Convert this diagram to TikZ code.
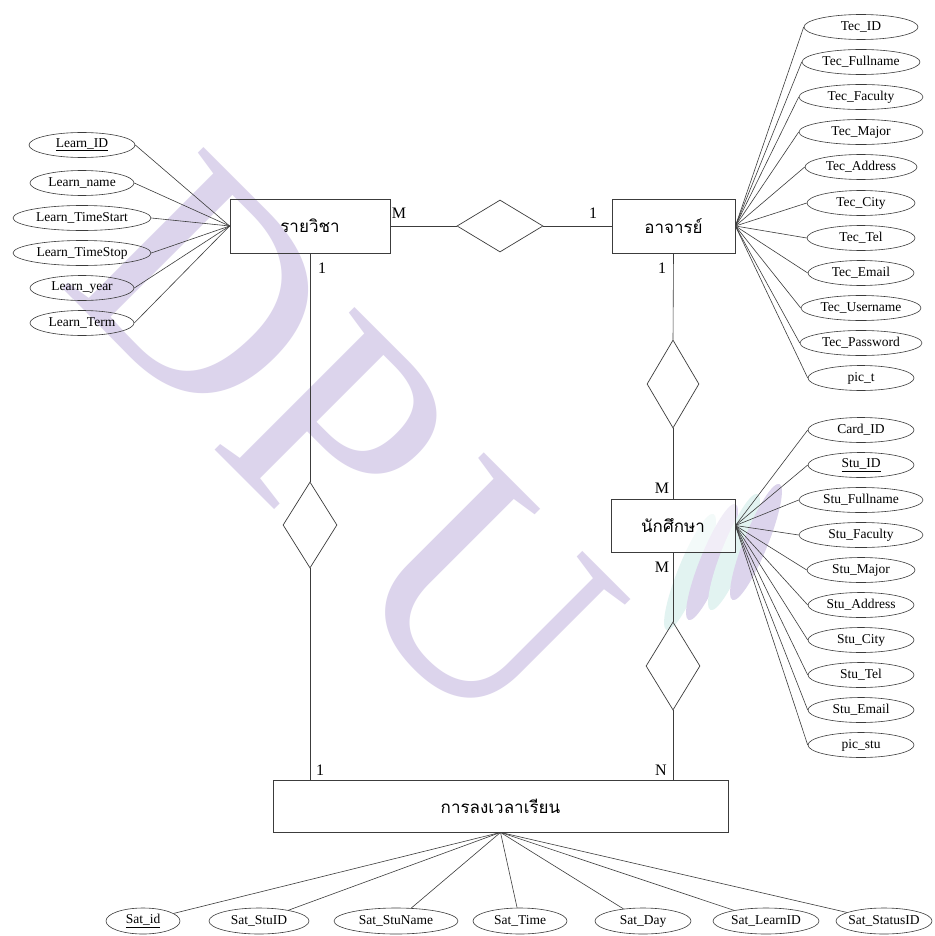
\documentclass[tikz,border=0pt]{standalone}
\usepackage{fontspec}
\setmainfont{Liberation Serif}
\newfontfamily\thaifont[Script=Thai]{Loma}
\usetikzlibrary{shapes.geometric}
\definecolor{linec}{RGB}{60,60,60}
\definecolor{wmark}{RGB}{220,212,236}
\definecolor{wteal}{RGB}{226,243,241}
\begin{document}
\begin{tikzpicture}[x=1pt,y=-1pt,
  ent/.style={draw=linec, line width=0.8pt, inner sep=0pt, font=\thaifont\fontsize{17}{17}\selectfont},
  attr/.style={ellipse, draw=linec, line width=0.6pt, inner sep=0pt, minimum height=25pt, minimum width=106pt,
    font=\fontsize{13.5}{13.5}\selectfont,
    execute at begin node={\hbox to 0pt\bgroup\hss}, execute at end node={\hss\egroup}},
  rel/.style={diamond, draw=linec, line width=0.7pt, inner sep=0pt},
  conn/.style={draw=linec, line width=0.6pt},
  card/.style={font=\fontsize{16}{16}\selectfont, inner sep=0pt},
  wm/.style={text=wmark, rotate=-45, font=\fontsize{305}{305}\selectfont, inner sep=0pt},
  swirl/.style={ellipse, inner sep=0pt, minimum width=24pt, minimum height=125pt, rotate=-22}]
\useasboundingbox (0,0) rectangle (934,936);
\fill[white] (0,0) rectangle (934,936);
% watermark
\node[wm] (wmD) at (205,290) {D};
\node[wm] (wmP) at (338,432) {P};
\node[wm] (wmU) at (486,598) {U};
\node[swirl, fill=wteal] (sw1) at (690,572) {};
\node[swirl, fill=wmark] (sw2) at (712,562) {};
\node[swirl, fill=wteal] (sw3) at (734,552) {};
\node[swirl, fill=wmark] (sw4) at (756,542) {};

% entities
\node[ent, minimum width=160pt, minimum height=54pt] (lrn) at (310,226) {รายวิชา};
\node[ent, minimum width=123pt, minimum height=54pt] (tec) at (673.5,226) {อาจารย์};
\node[ent, fill=white, fill opacity=0.6, text opacity=1, minimum width=124pt, minimum height=53pt] (stu) at (673,525.5) {นักศึกษา};
\node[ent, minimum width=455pt, minimum height=52pt] (reg) at (500.5,806) {การลงเวลาเรียน};

% relationships
\node[rel, minimum width=86pt, minimum height=52pt] (r1) at (500,226) {};
\node[rel, minimum width=54pt, minimum height=86pt] (r2) at (310,525) {};
\node[rel, minimum width=52pt, minimum height=88pt] (r3) at (673,384) {};
\node[rel, minimum width=54pt, minimum height=88pt] (r4) at (673,666) {};

\draw[conn] (lrn.east) -- (r1.west);
\draw[conn] (r1.east) -- (tec.west);
\draw[conn] (lrn.south) -- (r2.north);
\draw[conn] (r2.south) -- (r2.south |- reg.north);
\draw[conn] (tec.south) -- (r3.north);
\draw[conn] (r3.south) -- (stu.north);
\draw[conn] (stu.south) -- (r4.north);
\draw[conn] (r4.south) -- (r4.south |- reg.north);

% cardinalities
\node[card] (c1) at (399,213) {M};
\node[card] (c2) at (593,213) {1};
\node[card] (c3) at (322,268) {1};
\node[card] (c4) at (662,268) {1};
\node[card] (c5) at (662,488) {M};
\node[card] (c6) at (662,567) {M};
\node[card] (c7) at (320,770) {1};
\node[card] (c8) at (661,770) {N};

% Learn attributes
\foreach \n/\t/\yy/\w in {l1/\underline{Learn\_ID}/145/106, l2/Learn\_name/183/104, l3/Learn\_TimeStart/218/138,
  l4/Learn\_TimeStop/253/138, l5/Learn\_year/288/104, l6/Learn\_Term/323/104}{
  \node[attr, minimum width=\w pt] (\n) at (82,\yy) {\t};
  \draw[conn] (\n.east) -- (lrn.west);
}
% Tec attributes
\foreach \n/\t/\yy/\w in {t1/Tec\_ID/27/114, t2/Tec\_Fullname/62/118, t3/Tec\_Faculty/97/124, t4/Tec\_Major/132/124,
  t5/Tec\_Address/167/112, t6/Tec\_City/203/108, t7/Tec\_Tel/238/108, t8/Tec\_Email/273/106,
  t9/Tec\_Username/308/120, t10/Tec\_Password/343/122, t11/pic\_t/378/106}{
  \node[attr, minimum width=\w pt] (\n) at (861,\yy) {\t};
  \draw[conn] (\n.west) -- (tec.east);
}
% Stu attributes
\foreach \n/\t/\yy/\w in {s1/Card\_ID/430/106, s2/\underline{Stu\_ID}/465/106, s3/Stu\_Fullname/500/124, s4/Stu\_Faculty/535/124,
  s5/Stu\_Major/570/108, s6/Stu\_Address/605/106, s7/Stu\_City/640/106, s8/Stu\_Tel/675/106,
  s9/Stu\_Email/710/106, s10/pic\_stu/745/106}{
  \node[attr, fill=white, minimum width=\w pt] (\n) at (861,\yy) {\t};
  \draw[conn] (\n.west) -- (stu.east);
}
% Sat attributes
\foreach \n/\t/\xx/\w in {a1/\underline{Sat\_id}/143/74, a2/Sat\_StuID/259/100, a3/Sat\_StuName/396/124,
  a4/Sat\_Time/520/94, a5/Sat\_Day/643/96, a6/Sat\_LearnID/766/106, a7/Sat\_StatusID/884/96}{
  \node[attr, minimum width=\w pt, minimum height=26pt] (\n) at (\xx,921) {\t};
  \draw[conn] (\n) -- (reg.south);
}
\end{tikzpicture}
\end{document}
